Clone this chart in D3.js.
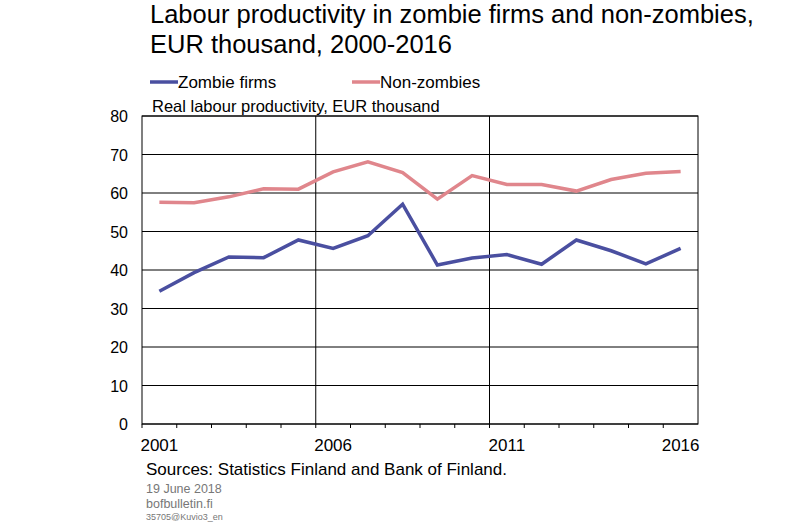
<!DOCTYPE html><html><head><meta charset="utf-8">
<script src="https://cdn.jsdelivr.net/npm/d3@7"></script>
<style>body{margin:0;background:#fff}text{font-family:Arial,"Liberation Sans",sans-serif}</style></head><body>
<svg id="c" width="800" height="522"></svg>
<script>
const years=[2001,2002,2003,2004,2005,2006,2007,2008,2009,2010,2011,2012,2013,2014,2015,2016];
const zombie=[34.5,39.3,43.4,43.2,47.8,45.6,48.9,57.1,41.3,43.1,44.0,41.5,47.8,45.0,41.6,45.6];
const nonZombie=[57.6,57.5,59.0,61.1,61.0,65.5,68.1,65.3,58.4,64.5,62.2,62.2,60.5,63.5,65.1,65.6];
const yTicks=[0,10,20,30,40,50,60,70,80];
const xLabels=[2001,2006,2011,2016];
const svg=d3.select("#c");
const L=142,R=698,T=116,B=424;
const x=d3.scaleBand().domain(years).range([L,R]);
const y=d3.scaleLinear().domain([0,80]).range([B,T]);
const cx=d=>x(d)+x.bandwidth()/2;
const g=svg.append("g");
yTicks.forEach(t=>{g.append("line").attr("x1",L).attr("x2",R).attr("y1",y(t)).attr("y2",y(t)).attr("stroke","#000").attr("stroke-width",1);
 g.append("text").attr("x",L-14).attr("y",y(t)+6).attr("text-anchor","end").attr("font-size",16).text(t);});
[2006,2011].forEach(yr=>g.append("line").attr("x1",x(yr)).attr("x2",x(yr)).attr("y1",T).attr("y2",B).attr("stroke","#000"));
g.append("rect").attr("x",L).attr("y",T).attr("width",R-L).attr("height",B-T).attr("fill","none").attr("stroke","#000");
years.forEach(yr=>g.append("line").attr("x1",x(yr)).attr("x2",x(yr)).attr("y1",B).attr("y2",B+4).attr("stroke","#000"));
xLabels.forEach(yr=>g.append("text").attr("x",cx(yr)).attr("y",B+27).attr("text-anchor","middle").attr("font-size",17).text(yr));
const line=d3.line().x((d,i)=>cx(years[i])).y(d=>y(d));
svg.append("path").datum(nonZombie).attr("d",line).attr("fill","none").attr("stroke","#e0868c").attr("stroke-width",3.5);
svg.append("path").datum(zombie).attr("d",line).attr("fill","none").attr("stroke","#4a4fa0").attr("stroke-width",3.5);
svg.append("text").attr("x",150).attr("y",23).attr("font-size",25.5).text("Labour productivity in zombie firms and non-zombies,");
svg.append("text").attr("x",150).attr("y",53).attr("font-size",25.5).text("EUR thousand, 2000-2016");
svg.append("line").attr("x1",150).attr("x2",178).attr("y1",82).attr("y2",82).attr("stroke","#4a4fa0").attr("stroke-width",3.5);
svg.append("text").attr("x",178).attr("y",88).attr("font-size",17).text("Zombie firms");
svg.append("line").attr("x1",352).attr("x2",380).attr("y1",82).attr("y2",82).attr("stroke","#e0868c").attr("stroke-width",3.5);
svg.append("text").attr("x",380).attr("y",88).attr("font-size",17).text("Non-zombies");
svg.append("text").attr("x",152).attr("y",112).attr("font-size",16.5).text("Real labour productivity, EUR thousand");
svg.append("text").attr("x",146).attr("y",475).attr("font-size",17).text("Sources: Statistics Finland and Bank of Finland.");
svg.append("text").attr("x",146).attr("y",493).attr("font-size",12.5).attr("fill","#777").text("19 June 2018");
svg.append("text").attr("x",146).attr("y",508).attr("font-size",12.5).attr("fill","#777").text("bofbulletin.fi");
svg.append("text").attr("x",146).attr("y",520).attr("font-size",9).attr("fill","#777").text("35705@Kuvio3_en");
</script></body></html>
